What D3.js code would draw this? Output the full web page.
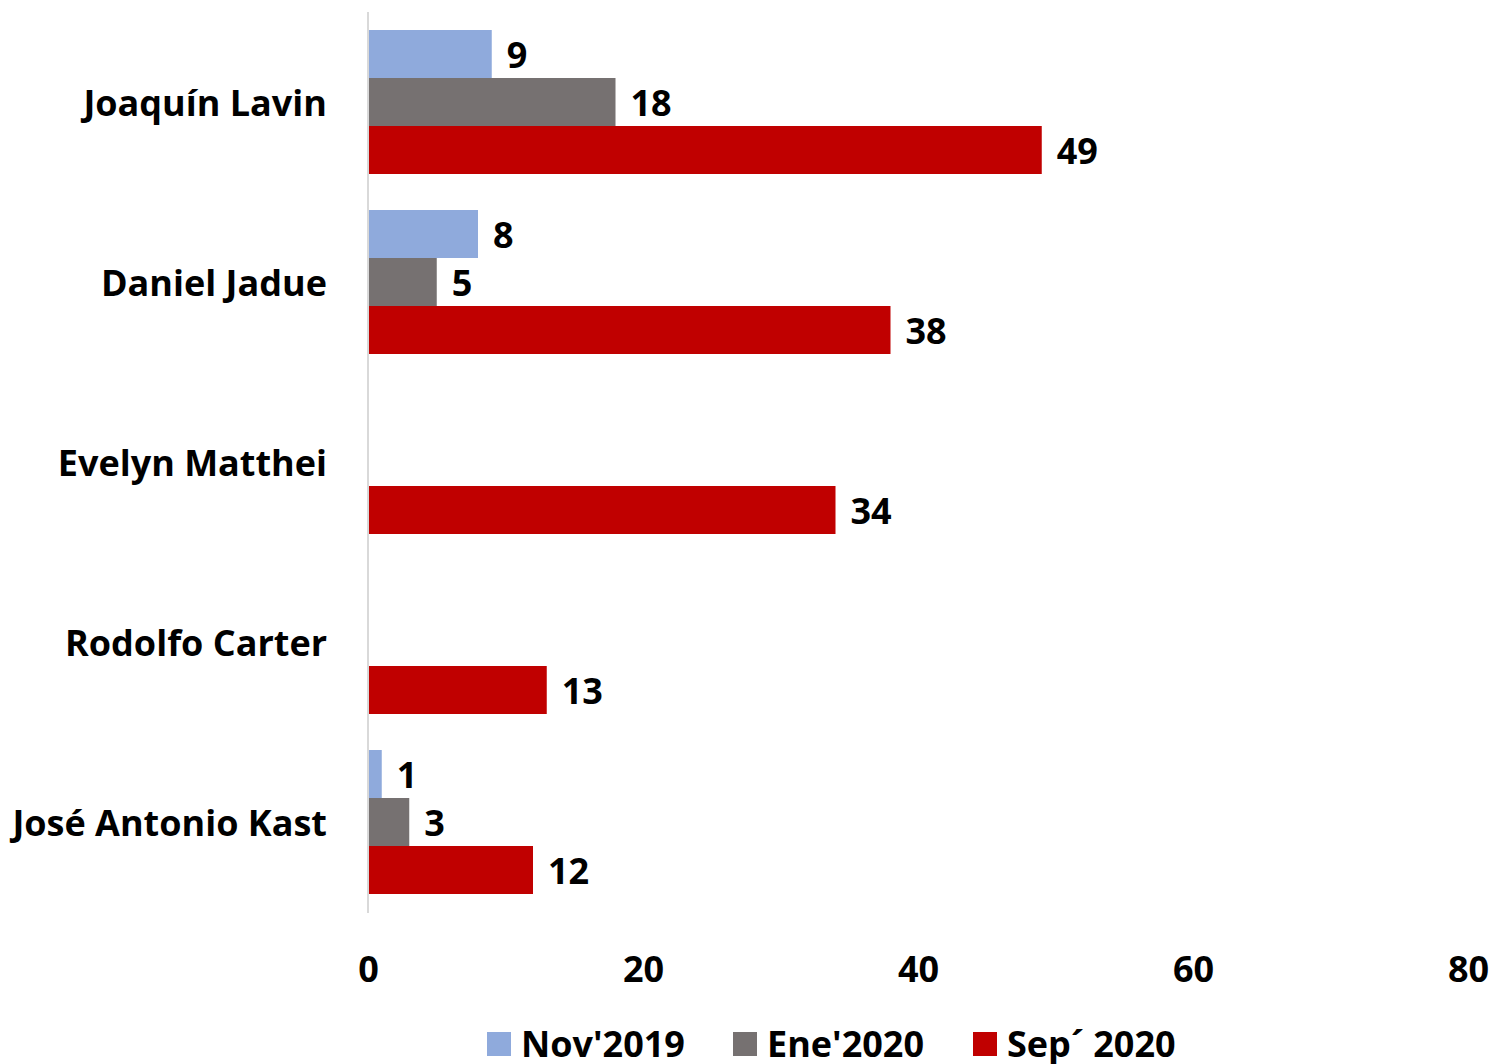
<!DOCTYPE html>
<html><head><meta charset="utf-8">
<script src="https://cdn.jsdelivr.net/npm/d3@7"></script>
<style>body{margin:0;background:#fff}svg{display:block}text{font-family:"Open Sans",Lato,sans-serif;font-weight:700;fill:#000}</style>
</head><body>
<script>
const categories = ["Joaquín Lavin","Daniel Jadue","Evelyn Matthei","Rodolfo Carter","José Antonio Kast"];
const seriesNames = ["Nov'2019","Ene'2020","Sep´ 2020"];
const nov2019 = [9, 8, null, null, 1];
const ene2020 = [18, 5, null, null, 3];
const sep2020 = [49, 38, 34, 13, 12];
const xTicks = [0, 20, 40, 60, 80];
const colors = ["#8FAADC", "#767171", "#C00000"];

const W = 1494, H = 1064, FS = 36;
const svg = d3.select("body").append("svg").attr("width", W).attr("height", H);
const x = d3.scaleLinear().domain([0, 80]).range([368, 1468]);
const y = d3.scaleBand().domain(categories).range([12, 912]).paddingInner(0.2).paddingOuter(0.1);
const y1 = d3.scaleBand().domain(seriesNames).range([0, y.bandwidth()]);
const allSeries = [nov2019, ene2020, sep2020];

svg.append("line").attr("x1", x(0)).attr("x2", x(0)).attr("y1", 12).attr("y2", 913)
  .attr("stroke", "#D9D9D9").attr("stroke-width", 2);

allSeries.forEach((vals, si) => {
  const g = svg.append("g");
  categories.forEach((c, ci) => {
    const v = vals[ci];
    if (v == null) return;
    const yy = y(c) + y1(seriesNames[si]);
    g.append("rect").attr("x", x(0) + 1).attr("y", yy).attr("width", x(v) - x(0) - 1)
      .attr("height", y1.bandwidth()).attr("fill", colors[si]);
    g.append("text").attr("x", x(v) + 15).attr("y", yy + y1.bandwidth() / 2 + 1)
      .attr("dy", "0.35em").attr("font-size", FS).text(v);
  });
});

svg.append("g").selectAll("text").data(categories).join("text")
  .attr("x", 327).attr("y", d => y(d) + y.bandwidth() / 2 + 1)
  .attr("dy", "0.35em").attr("text-anchor", "end").attr("font-size", FS).text(d => d);

const xa = svg.append("g").attr("transform", "translate(0,969)")
  .call(d3.axisBottom(x).tickValues(xTicks).tickSize(0).tickPadding(0));
xa.select(".domain").remove();
xa.selectAll("text").attr("font-size", FS).attr("font-family", null).attr("fill", "#000").attr("dy", "0.35em");

const legX = [487, 733, 973];
const leg = svg.append("g");
seriesNames.forEach((s, i) => {
  leg.append("rect").attr("x", legX[i]).attr("y", 1032).attr("width", 24).attr("height", 24).attr("fill", colors[i]);
  leg.append("text").attr("x", legX[i] + 34).attr("y", 1044).attr("dy", "0.35em").attr("font-size", FS).text(s);
});
</script>
</body></html>
